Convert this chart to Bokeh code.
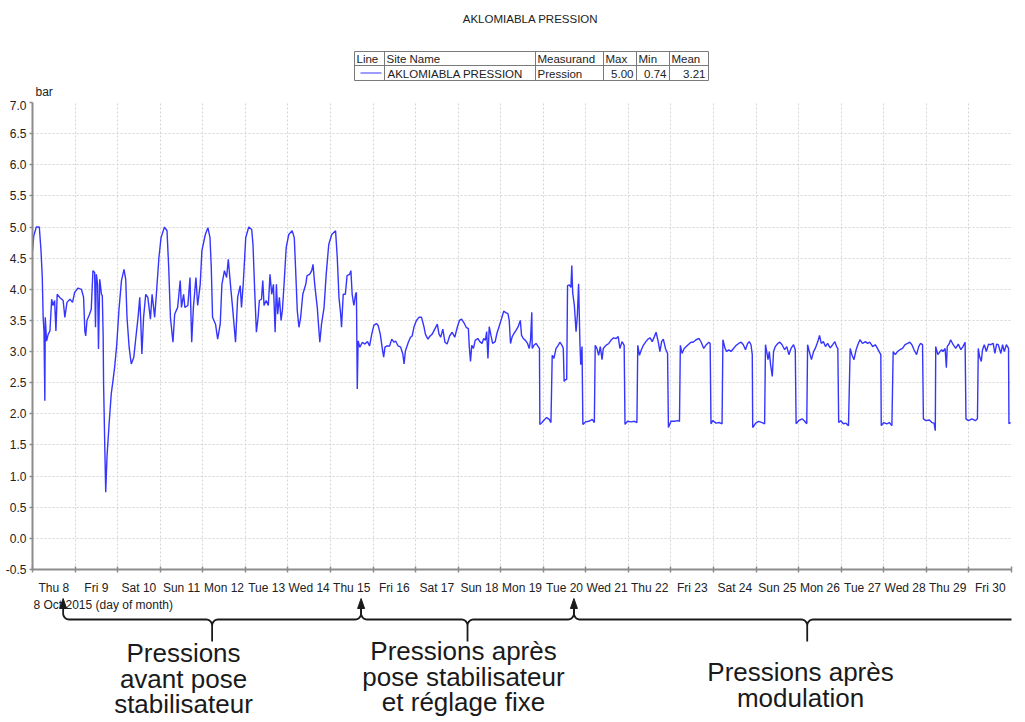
import numpy as np
from bokeh.plotting import figure
from bokeh.layouts import column
from bokeh.models import Range1d, FixedTicker, NumeralTickFormatter
from bokeh.core.properties import value
from bokeh.embed import file_html
from bokeh.resources import INLINE

# ---------------- data ----------------
chart_title = "AKLOMIABLA PRESSION"
y_unit = "bar"
x_title = "8 Oct 2015 (day of month)"
start_day = 8  # 8 Oct 2015 00:00

x_tick_labels = ["Thu 8", "Fri 9", "Sat 10", "Sun 11", "Mon 12", "Tue 13", "Wed 14",
                 "Thu 15", "Fri 16", "Sat 17", "Sun 18", "Mon 19", "Tue 20", "Wed 21",
                 "Thu 22", "Fri 23", "Sat 24", "Sun 25", "Mon 26", "Tue 27", "Wed 28",
                 "Thu 29", "Fri 30"]
y_ticks = [-0.5, 0.0, 0.5, 1.0, 1.5, 2.0, 2.5, 3.0, 3.5, 4.0, 4.5, 5.0, 5.5, 6.0, 6.5, 7.0]

legend_headers = ["Line", "Site Name", "Measurand", "Max", "Min", "Mean"]
legend_site = "AKLOMIABLA PRESSION"
legend_measurand = "Pression"
legend_stats = ["5.00", "0.74", "3.21"]

period_marks = [8, 15, 20]
period_texts = [["Pressions", "avant pose", "stabilisateur"],
                ["Pressions après", "pose stabilisateur", "et réglage fixe"],
                ["Pressions après", "modulation"]]

# elapsed days since 8 Oct 00:00 and pressure (bar)
t_part1 = [0.00, 0.03, 0.09, 0.16, 0.20, 0.23, 0.25, 0.27, 0.29, 0.30,
           0.33, 0.37, 0.41, 0.45, 0.48, 0.52, 0.55, 0.58, 0.64, 0.72,
           0.76, 0.81, 0.88, 0.94, 0.99, 1.07, 1.15, 1.20, 1.23, 1.25,
           1.28, 1.34, 1.38, 1.42, 1.46, 1.48, 1.50, 1.53, 1.55, 1.58,
           1.62, 1.64, 1.66, 1.67, 1.70, 1.72, 1.75, 1.80, 1.85, 1.89,
           1.93, 1.98, 2.03, 2.09, 2.15, 2.19, 2.22, 2.27, 2.32, 2.38,
           2.42, 2.48, 2.52, 2.54, 2.57, 2.61, 2.66, 2.71, 2.77, 2.81,
           2.87, 2.91, 2.97, 3.02, 3.10, 3.16, 3.20, 3.24, 3.30, 3.34,
           3.41, 3.47, 3.50, 3.55, 3.58, 3.65, 3.70, 3.74, 3.78, 3.84,
           3.88, 3.94, 3.98, 4.06, 4.12, 4.17, 4.20, 4.23, 4.30, 4.35,
           4.41, 4.45, 4.51, 4.56, 4.60, 4.65, 4.70, 4.77, 4.82, 4.88,
           4.91, 4.95]
p_part1 = [4.62, 4.86, 5.00, 5.00, 4.62, 4.19, 3.55, 3.33, 2.21, 3.55,
           3.17, 3.28, 3.33, 3.84, 3.74, 3.82, 3.33, 3.92, 3.87, 3.82,
           3.55, 3.79, 3.84, 3.79, 3.95, 4.02, 4.00, 3.87, 3.33, 3.25,
           3.50, 3.60, 3.68, 4.30, 4.27, 3.39, 4.24, 4.08, 3.04, 4.16,
           3.92, 3.90, 3.25, 2.48, 1.41, 0.74, 1.31, 1.84, 2.32, 2.53,
           2.75, 3.12, 3.66, 4.14, 4.32, 4.16, 3.55, 3.07, 2.80, 2.91,
           3.17, 3.55, 3.87, 3.55, 2.96, 3.55, 3.92, 3.87, 3.52, 3.92,
           3.55, 3.92, 4.51, 4.83, 5.00, 4.94, 4.35, 3.55, 3.15, 3.60,
           3.71, 4.14, 3.71, 3.92, 3.71, 3.74, 4.19, 3.15, 3.71, 4.19,
           3.74, 4.08, 4.62, 4.88, 4.99, 4.83, 4.35, 3.55, 3.44, 3.20,
           3.44, 4.08, 4.30, 4.19, 4.48, 4.08, 3.71, 3.15, 3.87, 4.06,
           3.71, 4.08]

t_part2 = [5.01, 5.08, 5.15, 5.18, 5.22, 5.26, 5.30, 5.33, 5.38, 5.41,
           5.44, 5.49, 5.54, 5.58, 5.62, 5.66, 5.70, 5.73, 5.76, 5.80,
           5.84, 5.87, 5.91, 5.96, 6.02, 6.10, 6.15, 6.18, 6.22, 6.26,
           6.30, 6.35, 6.42, 6.45, 6.51, 6.56, 6.59, 6.63, 6.69, 6.73,
           6.75, 6.79, 6.85, 6.90, 6.96, 7.03, 7.12, 7.16, 7.20, 7.24,
           7.26, 7.30, 7.35, 7.39, 7.45, 7.48, 7.51, 7.55, 7.59, 7.61,
           7.63, 7.65, 7.69, 7.75, 7.81, 7.87, 7.92, 7.97, 8.02, 8.08,
           8.12, 8.17, 8.22, 8.25, 8.28, 8.33, 8.39, 8.44, 8.49, 8.53,
           8.59, 8.65, 8.70, 8.73, 8.76, 8.83, 8.88, 8.92, 8.96, 9.02,
           9.08, 9.14, 9.20, 9.23, 9.29, 9.34, 9.39, 9.45, 9.51, 9.55,
           9.59, 9.64, 9.69, 9.74, 9.80, 9.86, 9.92, 9.98, 10.03, 10.08,
           10.13, 10.19, 10.24]
p_part2 = [4.83, 5.00, 4.96, 4.72, 3.98, 3.31, 3.55, 3.82, 3.84, 4.14,
           3.74, 3.82, 3.74, 4.24, 3.92, 4.08, 3.31, 4.08, 3.60, 3.87,
           3.50, 3.66, 4.08, 4.67, 4.88, 4.94, 4.83, 4.35, 3.66, 3.39,
           3.55, 3.92, 4.08, 4.22, 4.24, 4.30, 4.40, 4.08, 3.71, 3.33,
           3.15, 3.44, 3.71, 4.24, 4.72, 4.88, 4.94, 4.51, 3.87, 3.60,
           3.39, 3.92, 3.92, 4.22, 4.24, 4.30, 3.92, 3.74, 3.92, 3.95,
           2.40, 3.17, 3.07, 3.15, 3.12, 3.16, 3.09, 3.28, 3.42, 3.45,
           3.42, 3.28, 3.04, 2.91, 3.07, 3.09, 3.09, 3.20, 3.15, 3.17,
           3.09, 3.07, 2.96, 2.80, 3.01, 3.15, 3.23, 3.25, 3.39, 3.50,
           3.55, 3.55, 3.39, 3.28, 3.20, 3.25, 3.28, 3.36, 3.44, 3.28,
           3.23, 3.36, 3.15, 3.12, 3.25, 3.31, 3.23, 3.39, 3.50, 3.52,
           3.47, 3.39, 3.37]

t_part3 = [10.26, 10.29, 10.32, 10.36, 10.40, 10.46, 10.51, 10.56, 10.60, 10.64,
           10.67, 10.70, 10.73, 10.77, 10.81, 10.87, 10.91, 10.97, 11.02, 11.07,
           11.13, 11.17, 11.20, 11.23, 11.27, 11.31, 11.36, 11.41, 11.46, 11.49,
           11.53, 11.58, 11.63, 11.67, 11.70, 11.73, 11.74, 11.78, 11.83, 11.88,
           11.91, 11.92, 11.97, 12.03, 12.08, 12.14, 12.18, 12.21, 12.25, 12.30,
           12.35, 12.39, 12.44, 12.47, 12.49, 12.52, 12.55, 12.57, 12.61, 12.65,
           12.67, 12.69, 12.73, 12.77, 12.80, 12.83, 12.86, 12.88, 12.91, 12.93,
           12.99, 13.07, 13.15, 13.20, 13.22, 13.26, 13.30, 13.34, 13.38, 13.41,
           13.47, 13.54, 13.59, 13.65, 13.71, 13.76, 13.80, 13.85, 13.90, 13.92,
           13.98, 14.06, 14.14, 14.20, 14.22, 14.26, 14.30, 14.35, 14.41, 14.46,
           14.51, 14.56, 14.61, 14.65, 14.70, 14.74, 14.78, 14.82, 14.87, 14.92,
           14.94, 15.00, 15.08, 15.16, 15.20, 15.22, 15.26, 15.31, 15.39]
p_part3 = [3.10, 2.84, 3.10, 3.05, 3.18, 3.21, 3.16, 3.13, 3.21, 3.18,
           3.32, 2.89, 3.40, 3.26, 3.13, 3.16, 3.29, 3.42, 3.53, 3.65,
           3.62, 3.61, 3.50, 3.13, 3.24, 3.29, 3.34, 3.40, 3.50, 3.26,
           3.21, 3.18, 3.13, 3.05, 3.18, 3.63, 3.05, 3.10, 3.13, 3.08,
           3.05, 1.83, 1.86, 1.91, 1.94, 1.91, 1.86, 2.94, 2.89, 3.05,
           3.10, 3.15, 3.10, 3.05, 2.52, 2.55, 2.55, 4.06, 4.07, 4.03,
           4.38, 3.95, 3.74, 3.32, 3.58, 4.09, 3.16, 2.79, 3.08, 1.83,
           1.87, 1.88, 1.91, 1.86, 3.10, 3.05, 2.94, 3.08, 2.87, 3.05,
           3.10, 3.13, 3.18, 3.22, 3.21, 3.24, 3.05, 3.16, 3.10, 1.83,
           1.88, 1.87, 1.88, 1.86, 3.10, 2.94, 3.02, 3.10, 3.16, 3.20,
           3.22, 3.16, 3.24, 3.31, 3.16, 3.00, 3.16, 3.20, 3.05, 2.97,
           1.78, 1.88, 1.88, 1.89, 1.88, 3.10, 2.97, 3.05, 3.10]

t_part4 = [15.47, 15.52, 15.59, 15.66, 15.71, 15.77, 15.83, 15.89, 15.92, 15.94,
           15.98, 16.06, 16.14, 16.20, 16.22, 16.27, 16.31, 16.36, 16.41, 16.47,
           16.53, 16.59, 16.65, 16.70, 16.75, 16.80, 16.84, 16.88, 16.91, 16.92,
           16.99, 17.06, 17.14, 17.20, 17.22, 17.25, 17.28, 17.31, 17.34, 17.38,
           17.41, 17.45, 17.51, 17.56, 17.61, 17.67, 17.72, 17.77, 17.82, 17.88,
           17.92, 17.94, 18.00, 18.08, 18.13, 18.19, 18.21, 18.25, 18.30, 18.35,
           18.39, 18.45, 18.49, 18.53, 18.58, 18.63, 18.68, 18.74, 18.80, 18.85,
           18.89, 18.92, 18.94, 18.99, 19.05, 19.11, 19.17, 19.21, 19.25, 19.30,
           19.35, 19.39, 19.44, 19.50, 19.57, 19.62, 19.67, 19.74, 19.80, 19.85,
           19.89, 19.93, 19.94, 20.00, 20.07, 20.13, 20.19, 20.22, 20.27, 20.32,
           20.38, 20.44, 20.50, 20.56, 20.61, 20.66, 20.71, 20.77, 20.82, 20.86,
           20.91, 20.93, 20.99, 21.07, 21.13, 21.18, 21.21, 21.22, 21.27, 21.32,
           21.36, 21.39, 21.44, 21.47, 21.49, 21.54, 21.57, 21.63, 21.69, 21.75,
           21.81, 21.86, 21.91, 21.93, 21.99, 22.07, 22.15, 22.20, 22.22, 22.25,
           22.29, 22.32, 22.36, 22.41, 22.46, 22.51, 22.57, 22.61, 22.65, 22.69,
           22.75, 22.79, 22.83, 22.88, 22.93, 22.94, 22.98]
p_part4 = [3.15, 3.15, 3.19, 3.21, 3.15, 3.05, 3.11, 3.15, 3.13, 1.84,
           1.89, 1.85, 1.86, 1.84, 3.19, 3.05, 3.00, 3.03, 3.00, 3.05,
           3.10, 3.13, 3.15, 3.11, 3.03, 3.13, 3.16, 3.11, 2.95, 1.78,
           1.85, 1.88, 1.86, 1.84, 3.11, 3.00, 2.87, 3.00, 2.79, 2.60,
           3.00, 3.08, 3.13, 3.15, 3.11, 3.03, 3.08, 2.95, 3.05, 3.11,
           3.03, 1.84, 1.89, 1.92, 1.89, 1.84, 3.11, 3.00, 2.87, 3.00,
           3.05, 3.16, 3.26, 3.13, 3.16, 3.08, 3.13, 3.06, 3.11, 3.16,
           3.08, 3.05, 1.86, 1.89, 1.84, 1.85, 1.81, 3.05, 2.95, 2.87,
           3.03, 3.11, 3.19, 3.13, 3.16, 3.13, 3.15, 3.08, 3.11, 3.05,
           3.00, 2.95, 1.81, 1.86, 1.84, 1.86, 1.81, 3.00, 2.95, 3.00,
           3.03, 3.05, 3.11, 3.13, 3.15, 3.11, 3.03, 2.95, 3.08, 3.13,
           3.11, 1.92, 1.89, 1.90, 1.86, 1.85, 1.73, 3.08, 2.95, 3.00,
           3.03, 3.00, 3.05, 2.74, 3.08, 3.13, 3.19, 3.11, 3.05, 3.12,
           3.03, 3.08, 3.15, 1.92, 1.89, 1.92, 1.89, 1.92, 3.05, 2.92,
           2.84, 3.03, 3.11, 3.00, 3.12, 3.11, 3.13, 2.97, 3.12, 3.11,
           2.97, 3.11, 3.00, 3.11, 3.05, 1.84, 1.86]

elapsed = t_part1 + t_part2 + t_part3 + t_part4
pressure = p_part1 + p_part2 + p_part3 + p_part4
day_of_month = [start_day + t for t in elapsed]

# ---------------- layout (page pixels) ----------------
W = 1024
TOP_H = 100          # title + legend table
ML, MR, MT, MB = 32, 13, 2, 24
FH = 471
MAIN_H = MT + FH + MB
BOT_H = 720 - TOP_H - MAIN_H
FW = W - ML - MR
X0, X1 = float(start_day), float(start_day + len(x_tick_labels))
Y0, Y1 = y_ticks[0], y_ticks[-1]
FONT = "Liberation Sans"
TXT = "#222222"
AX = "#8c8c8c"
INK = "#1a1a1a"


def ix(day):  # data x -> page px
    return ML + (day - X0) / (X1 - X0) * FW


def dx(px):  # page px -> data x
    return X0 + (px - ML) / FW * (X1 - X0)


def canvas(height, y_top):
    # frame aligned with the main chart horizontally, full height; y in page px
    f = figure(width=W, height=height, x_range=Range1d(X0, X1),
               y_range=Range1d(y_top + height, y_top),
               output_backend="svg", toolbar_location=None, title_location=None,
               x_axis_location=None, y_axis_location=None,
               min_border_left=ML, min_border_right=MR, min_border_top=0, min_border_bottom=0)
    f.outline_line_color = None
    f.background_fill_color = "white"
    f.border_fill_color = "white"
    f.grid.visible = False
    return f


def texts(f, xs, baselines, labels, size=12, align="left", color=TXT):
    # positions given as page px of the text baseline; drawn with "middle" baseline
    f.text(x=[dx(x) for x in xs], y=[b - 0.3465 * size for b in baselines], text=labels,
           text_font=value(FONT), text_font_size=value(f"{size}px"),
           text_color=color, text_align=align, text_baseline="middle")


# ---- top: title, legend table, unit ----
top = canvas(TOP_H, 0)
texts(top, [530], [22], [chart_title], size=11.5, align="center")
rows = [51, 65, 80]
cols = [354, 384, 535, 603, 636, 669, 708]
TB = "#7a7a7a"
top.segment(x0=[dx(cols[0])] * len(rows), y0=rows, x1=[dx(cols[-1])] * len(rows), y1=rows,
            line_color=TB, line_width=1)
top.segment(x0=[dx(c) for c in cols], y0=[rows[0]] * len(cols),
            x1=[dx(c) for c in cols], y1=[rows[-1]] * len(cols),
            line_color=TB, line_width=1)
texts(top, [c + 2 for c in cols[:-1]], [62] * len(legend_headers), legend_headers, size=11.5)
top.line([dx(360), dx(381)], [72.5, 72.5], line_color="#7b7bff", line_width=1.5)
texts(top, [cols[1] + 3, cols[2] + 2], [77, 77], [legend_site, legend_measurand], size=11.5)
texts(top, [c - 3 for c in cols[4:]], [77] * len(legend_stats), legend_stats,
      size=11.5, align="right")
texts(top, [35], [96], [y_unit])

# ---- main chart ----
p = figure(width=W, height=MAIN_H, x_range=Range1d(X0, X1), y_range=Range1d(Y0, Y1),
           output_backend="svg", toolbar_location=None, title_location=None,
           min_border_left=ML, min_border_right=MR, min_border_top=MT, min_border_bottom=MB)
p.outline_line_color = None
p.background_fill_color = "white"
p.border_fill_color = "white"

xa = p.xaxis[0]
label_pos = [start_day + i + 0.5 for i in range(len(x_tick_labels))]
midnights = [start_day + i for i in range(len(x_tick_labels) + 1)]
xa.ticker = FixedTicker(ticks=label_pos, minor_ticks=midnights)
xa.major_label_overrides = {pos: lab for pos, lab in zip(label_pos, x_tick_labels)}
xa.major_tick_line_color = None
xa.major_tick_in = 0
xa.major_tick_out = 0
xa.minor_tick_line_color = AX
xa.minor_tick_line_width = 1.5
xa.minor_tick_in = 3
xa.minor_tick_out = 3
xa.axis_line_color = AX
xa.axis_line_width = 2
xa.major_label_text_font = FONT
xa.major_label_text_font_size = "12px"
xa.major_label_text_color = TXT
xa.major_label_standoff = 8

ya = p.yaxis[0]
ya.ticker = FixedTicker(ticks=y_ticks)
ya.formatter = NumeralTickFormatter(format="0.0")
ya.minor_tick_line_color = None
ya.major_tick_in = 0
ya.major_tick_out = 3
ya.major_tick_line_color = AX
ya.major_tick_line_width = 1.5
ya.axis_line_color = AX
ya.axis_line_width = 2
ya.major_label_text_font = FONT
ya.major_label_text_font_size = "12px"
ya.major_label_text_color = TXT
ya.major_label_standoff = 3

p.xgrid[0].ticker = FixedTicker(ticks=midnights)
p.ygrid[0].ticker = FixedTicker(ticks=y_ticks)
for g in (p.xgrid[0], p.ygrid[0]):
    g.grid_line_color = "#d4d4d4"
    g.grid_line_dash = "2 2"
    g.grid_line_width = 1

p.line(day_of_month, pressure, line_color="#3535ff", line_width=1.4)

# ---- bottom: axis title, braces, arrows, period texts ----
y_bot = TOP_H + MAIN_H
bot = canvas(BOT_H, y_bot)
texts(bot, [33], [609], [x_title])

BR_TOP, BR_Y, BR_BOT, R = 613, 619, 641, 6
TIP = y_bot + 1
arrow_x = [ix(d + 0.72) for d in period_marks]
ends = arrow_x + [1040]
th = np.linspace(0, np.pi / 2, 8)
brace_xs, brace_ys = [], []
for xa_, xb_ in zip(ends[:-1], ends[1:]):
    xm = (xa_ + xb_) / 2
    left = [(xa_, TIP + 9)]
    left += [(xa_ + R - R * np.cos(t), BR_TOP + R * np.sin(t)) for t in th]
    left += [(xm - R + R * np.sin(t), BR_Y + R - R * np.cos(t)) for t in th]
    left += [(xm, BR_BOT)]
    right = [(2 * xm - x, y) for (x, y) in reversed(left)]
    pts = left + right[1:]
    brace_xs.append([dx(q[0]) for q in pts])
    brace_ys.append([q[1] for q in pts])
bot.multi_line(brace_xs, brace_ys, line_color=INK, line_width=1.8)
bot.patches([[dx(x), dx(x - 3.5), dx(x + 3.5)] for x in arrow_x],
            [[TIP, TIP + 10, TIP + 10] for _ in arrow_x],
            fill_color=INK, line_color=INK, line_width=1)

text_cx = [183, 463, 800]
text_b0 = [662, 660, 681]
for cx, b0, lines in zip(text_cx, text_b0, period_texts):
    texts(bot, [cx] * len(lines), [b0 + 25.5 * k for k in range(len(lines))], lines,
          size=26, align="center", color=INK)

layout = column(top, p, bot)
open("out.html", "w", encoding="utf-8").write(file_html(layout, INLINE))
